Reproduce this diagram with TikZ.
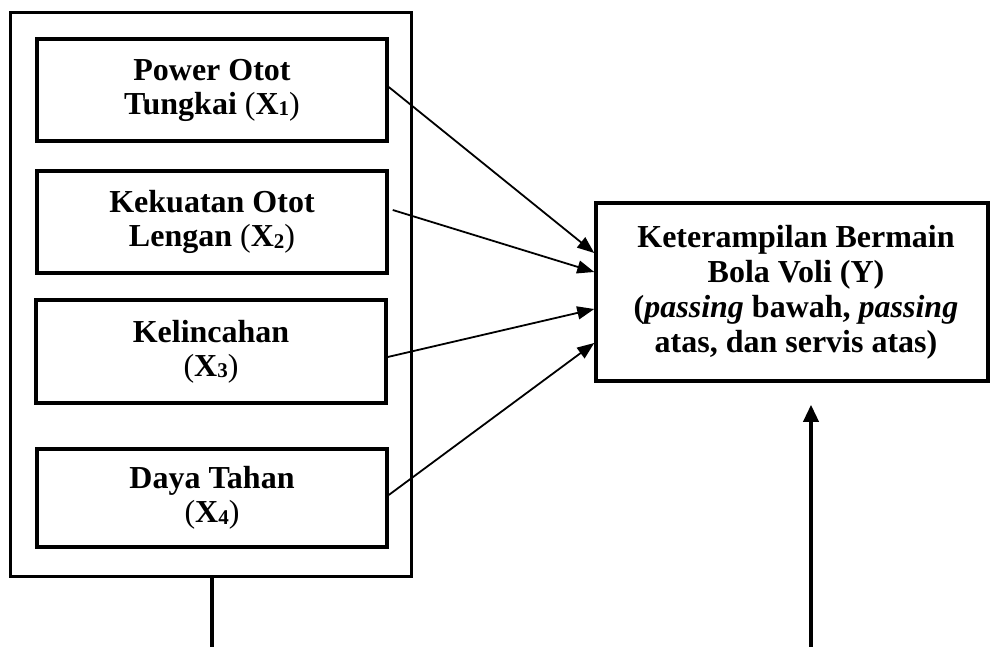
\documentclass[tikz,border=0pt]{standalone}
\usepackage{fontspec}
\setmainfont{Liberation Serif}
\usetikzlibrary{arrows.meta}
\newcommand{\sbx}[1]{\raisebox{-1.5pt}{\fontsize{21}{21}\selectfont #1}}
\begin{document}
\begin{tikzpicture}[x=1pt,y=-1pt,
  varbox/.style={draw,line width=3.5pt,minimum width=350pt,align=center,inner sep=0pt,
    font=\fontsize{32}{34}\selectfont\bfseries},
  outerbox/.style={draw,line width=3.5pt,minimum width=401pt,minimum height=564pt,inner sep=0pt},
  ybox/.style={draw,line width=3.5pt,minimum width=392pt,minimum height=178pt,align=center,inner sep=0pt,
    font=\fontsize{32}{35}\selectfont\bfseries},
  arr/.style={line width=1.8pt,-{Triangle[length=17pt,width=13pt]}},
  bigarr/.style={line width=3.5pt,-{Triangle[length=17pt,width=15pt]}},
  stem/.style={line width=3.5pt}]
\useasboundingbox (0,0) rectangle (990,647);
\node[outerbox] (outer) at (211,294.5) {};
\node[varbox,minimum height=102pt] (b1) at (212,90) {Power Otot\\Tungkai \textmd{(}X\sbx{1}\textmd{)}};
\node[varbox,minimum height=102pt] (b2) at (212,222) {Kekuatan Otot\\Lengan \textmd{(}X\sbx{2}\textmd{)}};
\node[varbox,minimum height=103pt] (b3) at (211,351.5) {Kelincahan\\\textmd{(}X\sbx{3}\textmd{)}};
\node[varbox,minimum height=98pt] (b4) at (212,498) {Daya Tahan\\\textmd{(}X\sbx{4}\textmd{)}};
\node[ybox] (Y) at (792,292) {\hspace*{8pt}Keterampilan Bermain\\\hspace*{8pt}Bola Voli (Y)\\\hspace*{8pt}(\textit{passing} bawah, \textit{passing}\\\hspace*{8pt}atas, dan servis atas)};
\draw[arr] ([yshift=3pt]b1.east) -- ([yshift=39pt]Y.west);
\draw[arr] ([xshift=4pt,yshift=12pt]b2.east) -- ([yshift=20pt]Y.west);
\draw[arr] ([yshift=-5.5pt]b3.east) -- ([yshift=-17pt]Y.west);
\draw[arr] ([yshift=3pt]b4.east) -- ([yshift=-51pt]Y.west);
\coordinate (s1) at (212,647);
\coordinate (s2) at (811,647);
\draw[stem] ([xshift=1pt]outer.south) -- (s1);
\draw[bigarr] (s2) -- ([xshift=19pt,yshift=-22pt]Y.south);
\end{tikzpicture}
\end{document}
